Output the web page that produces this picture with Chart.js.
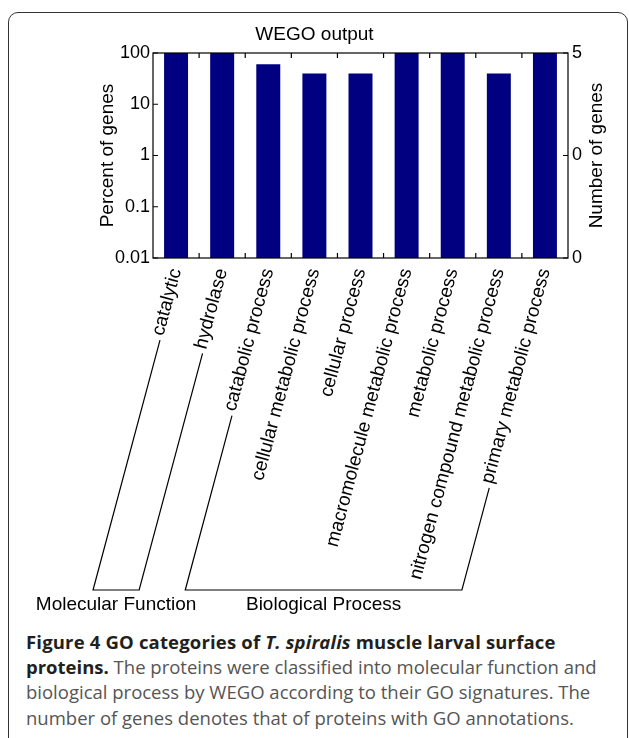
<!DOCTYPE html>
<html>
<head>
<meta charset="utf-8">
<title>WEGO output</title>
<script src="https://cdn.jsdelivr.net/npm/chart.js@4.4.1/dist/chart.umd.min.js"></script>
<style>
  html, body { margin: 0; padding: 0; background: #fff; }
  body { width: 629px; height: 738px; overflow: hidden; position: relative; }
  .frame {
    position: absolute; left: 8px; top: 12px; width: 620px; height: 800px;
    border: 1.6px solid #333; border-radius: 10px; box-sizing: border-box;
  }
  #wrap { position: absolute; left: 0; top: 0; width: 629px; height: 625px; }
  .caption {
    position: absolute; left: 26px; top: 629px;
    font-family: 'Open Sans', 'Noto Sans', sans-serif; font-size: 18.5px; line-height: 25.2px;
    color: #555; white-space: nowrap;
  }
  .caption b { color: #231f20; font-weight: 700; }
  .caption .first { letter-spacing: 0.17px; }
</style>
</head>
<body>
<div class="frame"></div>
<div id="wrap"><canvas id="wego"></canvas></div>
<div class="caption">
  <b class="first">Figure 4 GO categories of <i>T. spiralis</i> muscle larval surface</b><br>
  <b>proteins.</b> The proteins were classified into molecular function and<br>
  biological process by WEGO according to their GO signatures. The<br>
  number of genes denotes that of proteins with GO annotations.
</div>
<script>
// ── data ─────────────────────────────────────────────
const categories = [
    'catalytic', 'hydrolase', 'catabolic process', 'cellular metabolic process',
    'cellular process', 'macromolecule metabolic process', 'metabolic process',
    'nitrogen compound metabolic process', 'primary metabolic process'
];
const percentGenes = [100, 100, 60, 40, 40, 100, 100, 40, 100];
const percentTicks = [0.01, 0.1, 1, 10, 100];
const geneTicks = [0.01, 1, 100];
const geneTickLabels = ['0', '0', '5'];
const groupNames = ['Molecular Function', 'Biological Process'];
const groupFirst = [0, 2];
const groupLast = [1, 8];

// ── layout ───────────────────────────────────────────
const PLOT = { left: 153, right: 568, top: 53, bottom: 258 };
const FONT = "'Liberation Sans', Arial, Helvetica, sans-serif";
const LABEL_ROT = 75;
const BRACKET_DROP = 332;

Chart.defaults.font.family = FONT;
Chart.defaults.color = '#000';

const wegoDecor = {
    id: 'wegoDecor',
    afterDatasetsDraw(chart) {
        const { ctx, chartArea: a, scales: { x, y, y2 } } = chart;
        ctx.save();
        ctx.strokeStyle = '#000';
        ctx.lineWidth = 1.2;
        ctx.strokeRect(a.left, a.top, a.width, a.height);
        ctx.beginPath();
        for (let i = 1; i < categories.length; i++) {
            const px = (x.getPixelForValue(i - 1) + x.getPixelForValue(i)) / 2;
            ctx.moveTo(px, a.top); ctx.lineTo(px, a.top + 5);
            ctx.moveTo(px, a.bottom); ctx.lineTo(px, a.bottom - 5);
        }
        percentTicks.forEach(v => {
            const py = y.getPixelForValue(v);
            ctx.moveTo(a.left, py); ctx.lineTo(a.left + 5, py);
        });
        geneTicks.forEach(v => {
            const py = y2.getPixelForValue(v);
            ctx.moveTo(a.right, py); ctx.lineTo(a.right - 5, py);
        });
        ctx.stroke();
        ctx.restore();
    },
    afterDraw(chart) {
        const { ctx, chartArea: a, scales: { x } } = chart;
        ctx.save();

        // right axis title reads bottom-to-top like the left one
        ctx.font = `19px ${FONT}`;
        ctx.fillStyle = '#000';
        ctx.textAlign = 'center';
        ctx.textBaseline = 'middle';
        ctx.translate(597, (a.top + a.bottom) / 2);
        ctx.rotate(-Math.PI / 2);
        ctx.fillText('Number of genes', 0, 0);
        ctx.setTransform(1, 0, 0, 1, 0, 0);

        // group brackets under the slanted category labels
        const tickFont = Chart.helpers.toFont(x.options.ticks.font);
        ctx.font = tickFont.string;
        const rot = x.labelRotation * Math.PI / 180;
        const dx = -Math.cos(rot), dy = Math.sin(rot);
        const lineY = a.bottom + BRACKET_DROP;
        const foot = i => {
            const ex = x.getPixelForValue(i) + 3;
            const ey = x.top + x.options.ticks.padding + tickFont.lineHeight / 2 * Math.cos(rot);
            const len = ctx.measureText(categories[i]).width + 5;
            const sx = ex + len * dx, sy = ey + len * dy;
            const t = (lineY - sy) / dy;
            return { sx, sy, px: sx + t * dx };
        };
        ctx.strokeStyle = '#000';
        ctx.lineWidth = 1.2;
        groupNames.forEach((name, g) => {
            const f1 = foot(groupFirst[g]), f2 = foot(groupLast[g]);
            ctx.beginPath();
            ctx.moveTo(f1.sx, f1.sy);
            ctx.lineTo(f1.px, lineY);
            ctx.lineTo(f2.px, lineY);
            ctx.lineTo(f2.sx, f2.sy);
            ctx.stroke();
            ctx.fillStyle = '#000';
            ctx.textAlign = 'center';
            ctx.textBaseline = 'middle';
            ctx.font = `19px ${FONT}`;
            ctx.fillText(name, (f1.px + f2.px) / 2, lineY + 15);
            ctx.font = tickFont.string;
        });
        ctx.restore();
    }
};

new Chart(document.getElementById('wego'), {
    type: 'bar',
    data: {
        labels: categories,
        datasets: [{
            label: 'Percent of genes', data: percentGenes, yAxisID: 'y',
            backgroundColor: '#000080', borderWidth: 0,
            categoryPercentage: 1, barPercentage: 0.52
        }]
    },
    options: {
        responsive: true, maintainAspectRatio: false, animation: false,
        layout: { padding: 0 },
        plugins: {
            legend: { display: false },
            tooltip: { enabled: false },
            title: {
                display: true, text: 'WEGO output', color: '#000',
                font: { size: 19, weight: 'normal' },
                padding: { top: 23, bottom: 7.2 }
            }
        },
        scales: {
            x: {
                type: 'category', offset: true,
                grid: { display: false, drawTicks: false }, border: { display: false },
                ticks: { autoSkip: false, minRotation: LABEL_ROT, maxRotation: LABEL_ROT, padding: 8, font: { size: 19 }, color: '#000' },
                afterFit: s => { s.height = s.chart.height - PLOT.bottom; }
            },
            y: {
                type: 'logarithmic', position: 'left', min: 0.01, max: 100,
                grid: { display: false, drawTicks: false }, border: { display: false },
                afterBuildTicks: s => { s.ticks = percentTicks.map(v => ({ value: v })); },
                ticks: { padding: 3, font: { size: 18 }, color: '#000', callback: v => String(v) },
                title: { display: true, text: 'Percent of genes', color: '#000', font: { size: 19 }, padding: { top: 96.6, bottom: 0 } },
                afterFit: s => { s.width = PLOT.left; }
            },
            y2: {
                type: 'logarithmic', position: 'right', min: 0.01, max: 100,
                grid: { display: false, drawTicks: false }, border: { display: false },
                afterBuildTicks: s => { s.ticks = geneTicks.map(v => ({ value: v })); },
                ticks: { padding: 4, font: { size: 18 }, color: '#000', callback: (v, i) => geneTickLabels[i] },
                afterFit: s => { s.width = s.chart.width - PLOT.right; }
            }
        }
    },
    plugins: [wegoDecor]
});
</script>
</body>
</html>
